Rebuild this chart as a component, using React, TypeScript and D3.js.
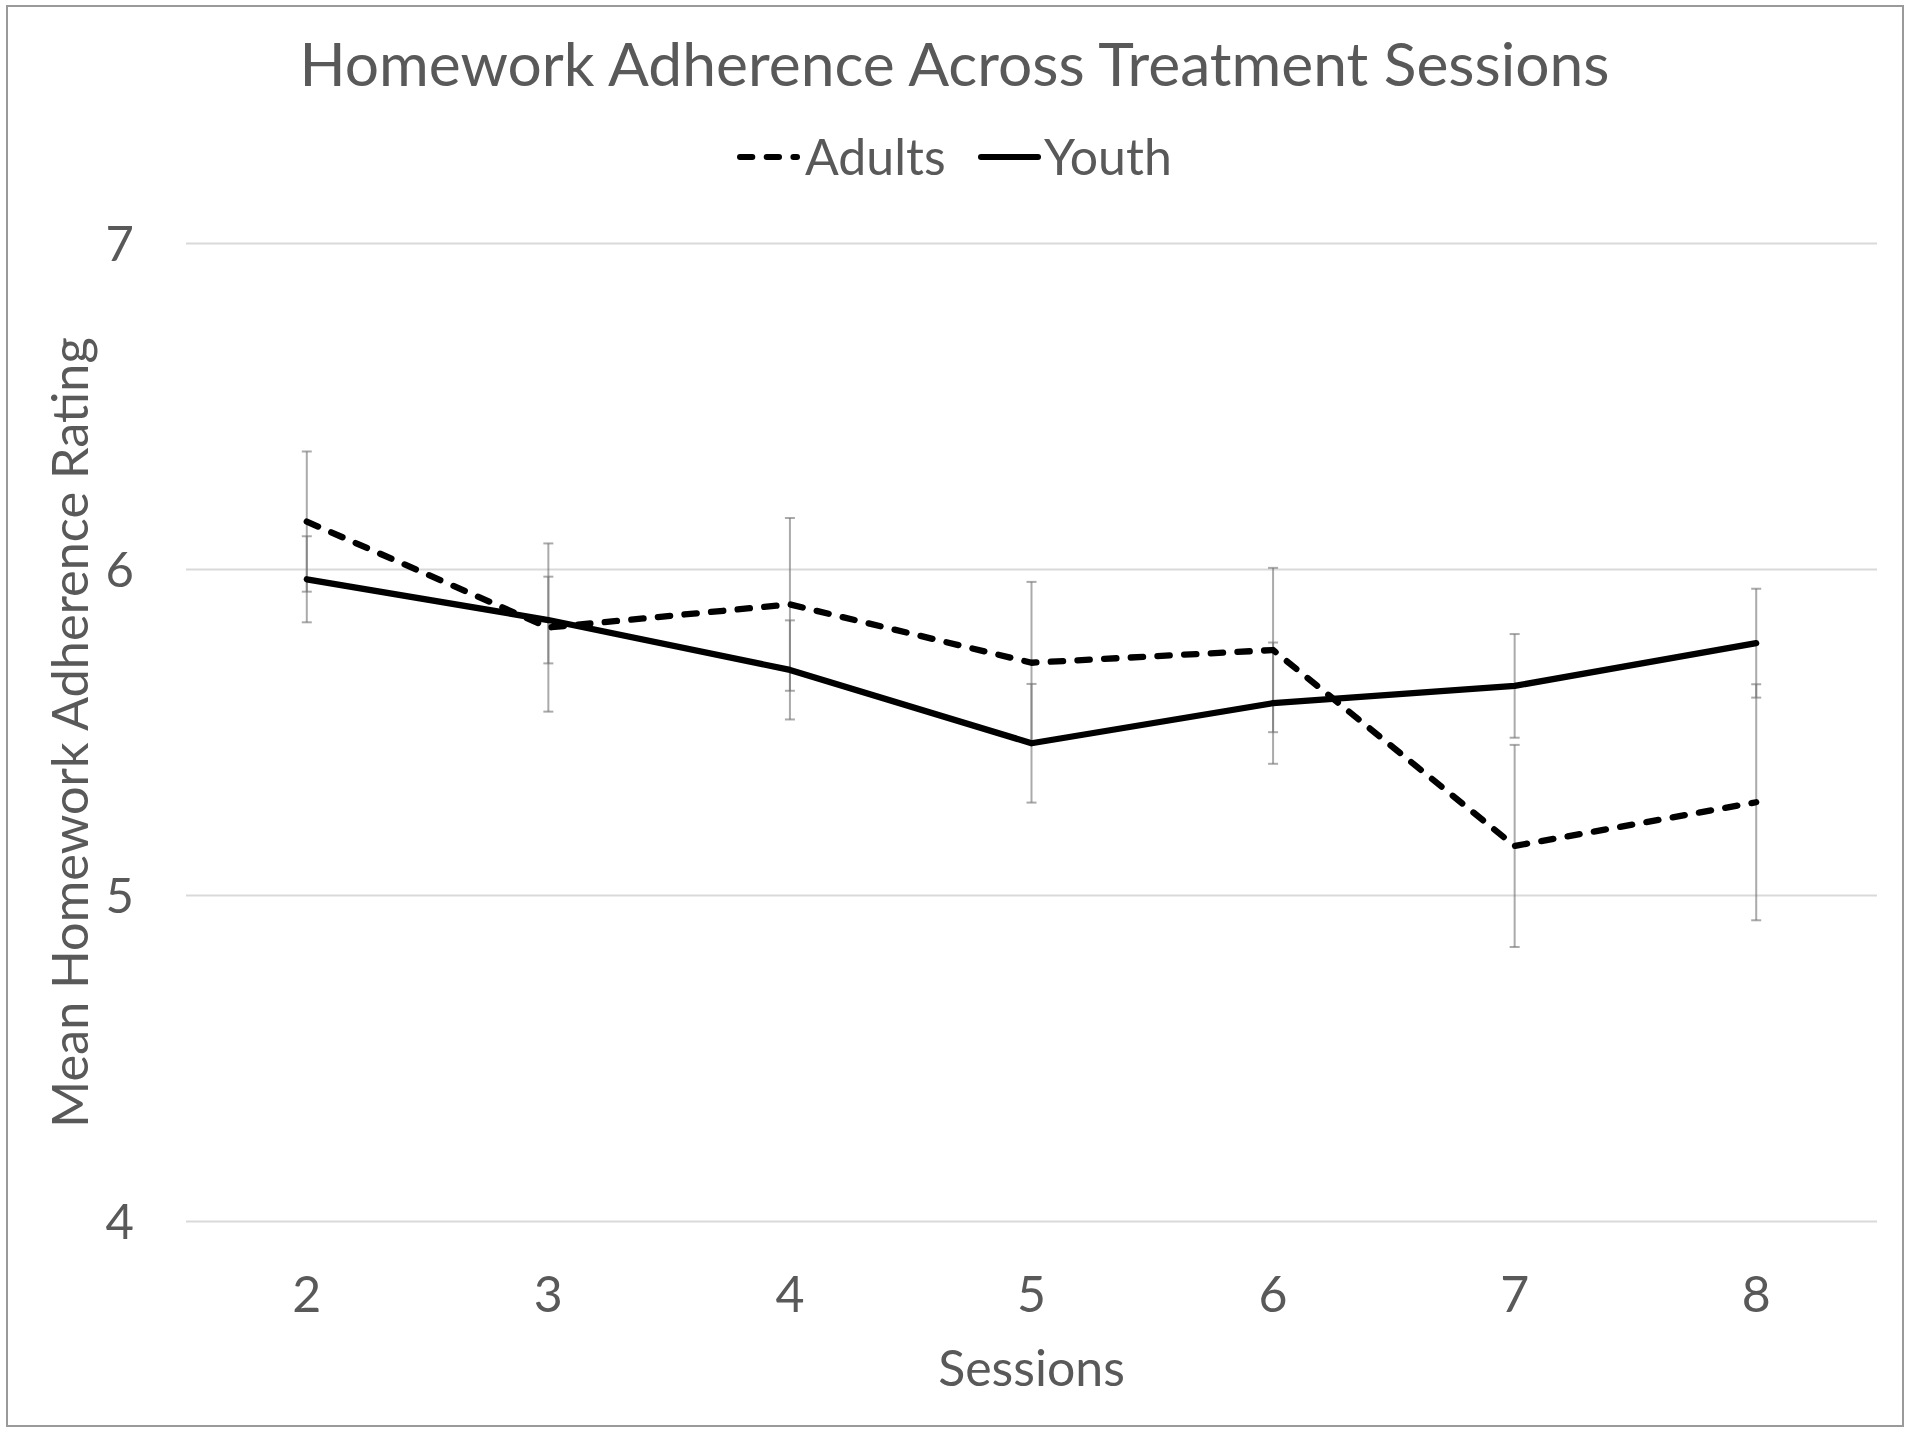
import React from "react";
import * as d3 from "d3";

const sessions = ["2", "3", "4", "5", "6", "7", "8"];
const adultsMean = [6.147, 5.822, 5.893, 5.714, 5.753, 5.152, 5.286];
const adultsErr = [0.215, 0.258, 0.265, 0.248, 0.252, 0.31, 0.362];
const youthMean = [5.97, 5.845, 5.692, 5.467, 5.59, 5.643, 5.774];
const youthErr = [0.132, 0.133, 0.152, 0.182, 0.186, 0.159, 0.167];
const yTicks = [4, 5, 6, 7];

const W = 1909;
const H = 1433;
const FONT = "Lato, 'Open Sans', sans-serif";
const TEXT = "#595959";

export default function App() {
  const x = d3.scalePoint<string>().domain(sessions).range([186, 1877]).padding(0.5);
  const y = d3.scaleLinear().domain([4, 7]).range([1221.5, 243.5]);

  const line = d3
    .line<number>()
    .x((_, i) => x(sessions[i]) as number)
    .y((d) => y(d));

  const series = [
    { name: "Adults", mean: adultsMean, err: adultsErr, dash: "12.3 14.4" },
    { name: "Youth", mean: youthMean, err: youthErr, dash: undefined as string | undefined },
  ];

  return (
    <svg width={W} height={H} style={{ display: "block", position: "absolute", left: 0, top: 0 }}>
      <rect x={0} y={0} width={W} height={H} fill="#fff" />
      <rect x={7} y={6} width={1896} height={1420} fill="#fff" stroke="#9a9a9a" strokeWidth={2} />

      {/* gridlines */}
      {yTicks.map((t) => (
        <line key={t} x1={186} x2={1877} y1={y(t)} y2={y(t)} stroke="#d9d9d9" strokeWidth={2} />
      ))}
      {/* y tick labels */}
      {yTicks.map((t) => (
        <text key={t} x={134} y={y(t)} dy="0.36em" textAnchor="end" fontFamily={FONT} fontSize={49} fill={TEXT}>
          {t}
        </text>
      ))}
      {/* x tick labels */}
      {sessions.map((s) => (
        <text key={s} x={x(s)} y={1311.5} textAnchor="middle" fontFamily={FONT} fontSize={50} fill={TEXT}>
          {s}
        </text>
      ))}

      {/* error bars */}
      {series.map((s) => (
        <g key={s.name + "err"} stroke="#717171" strokeOpacity={0.6} strokeWidth={2}>
          {s.mean.map((m, i) => {
            const cx = x(sessions[i]) as number;
            const y1 = y(m + s.err[i]);
            const y2 = y(m - s.err[i]);
            return (
              <g key={i}>
                <line x1={cx} x2={cx} y1={y1} y2={y2} />
                <line x1={cx - 5} x2={cx + 5} y1={y1} y2={y1} />
                <line x1={cx - 5} x2={cx + 5} y1={y2} y2={y2} />
              </g>
            );
          })}
        </g>
      ))}

      {/* lines */}
      {series.map((s) => (
        <path
          key={s.name}
          d={line(s.mean) as string}
          fill="none"
          stroke="#000"
          strokeWidth={6.3}
          strokeLinecap="round"
          strokeLinejoin="round"
          strokeDasharray={s.dash}
        />
      ))}

      {/* title */}
      <text x={954.5} y={86} textAnchor="middle" fontFamily={FONT} fontSize={60.5} fill={TEXT}>
        Homework Adherence Across Treatment Sessions
      </text>

      {/* legend */}
      <line x1={740} x2={797} y1={157} y2={157} stroke="#000" strokeWidth={6} strokeLinecap="round" strokeDasharray="12.3 14.4" />
      <text x={805} y={175} fontFamily={FONT} fontSize={50} fill={TEXT}>Adults</text>
      <line x1={981} x2={1038} y1={157} y2={157} stroke="#000" strokeWidth={6} strokeLinecap="round" />
      <text x={1044} y={175} fontFamily={FONT} fontSize={50} fill={TEXT}>Youth</text>

      {/* axis titles */}
      <text x={1031.5} y={1386} textAnchor="middle" fontFamily={FONT} fontSize={50} fill={TEXT}>Sessions</text>
      <text
        transform={`translate(88, ${(y(4) + y(7)) / 2}) rotate(-90)`}
        textAnchor="middle"
        fontFamily={FONT}
        fontSize={50.5}
        fill={TEXT}
      >
        Mean Homework Adherence Rating
      </text>
    </svg>
  );
}
